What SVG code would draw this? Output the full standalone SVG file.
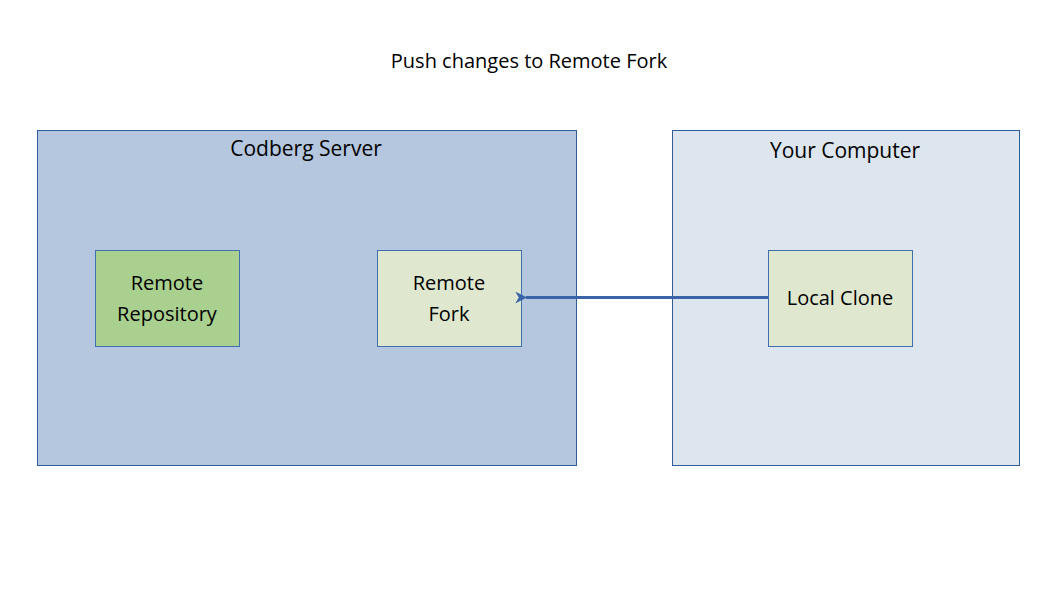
<svg xmlns="http://www.w3.org/2000/svg" width="1058" height="595" viewBox="0 0 1058 595">
<defs>
<style>
text{font-family:"Open Sans","Noto Sans","Liberation Sans",sans-serif;fill:#000;text-anchor:middle}
.c{stroke:#2f5d9c;stroke-width:1}
.n{stroke:#3f6fb0;stroke-width:1}
</style>
<marker id="ah" viewBox="0 0 10 10" refX="1" refY="5" markerWidth="4" markerHeight="4" orient="auto"><path d="M10,0L0,5L10,10L7,5z" fill="#3a63a8"/></marker>
</defs>
<rect width="1058" height="595" fill="#fff"/>
<text x="529" y="68" font-size="20">Push changes to Remote Fork</text>
<g id="codberg"><rect class="c" x="37.5" y="130.5" width="539" height="335" fill="#b4c7de"/><text x="306" y="156" font-size="21">Codberg Server</text></g>
<g id="computer"><rect class="c" x="672.5" y="130.5" width="347" height="335" fill="#dde6ef"/><text x="845" y="158" font-size="21">Your Computer</text></g>
<g id="repo"><rect class="n" x="95.5" y="250.5" width="144" height="96" fill="#a9d08e"/><text x="167" y="290" font-size="20">Remote</text><text x="167" y="321" font-size="20">Repository</text></g>
<g id="fork"><rect class="n" x="377.5" y="250.5" width="144" height="96" fill="#dfe8cf"/><text x="449" y="290" font-size="20">Remote</text><text x="449" y="321" font-size="20">Fork</text></g>
<g id="clone"><rect class="n" x="768.5" y="250.5" width="144" height="96" fill="#dfe8cf"/><text x="840" y="305" font-size="20">Local Clone</text></g>
<g id="connectors"><line x1="768" y1="297.5" x2="526" y2="297.5" stroke="#3a63a8" stroke-width="3" marker-end="url(#ah)"/></g>
</svg>
